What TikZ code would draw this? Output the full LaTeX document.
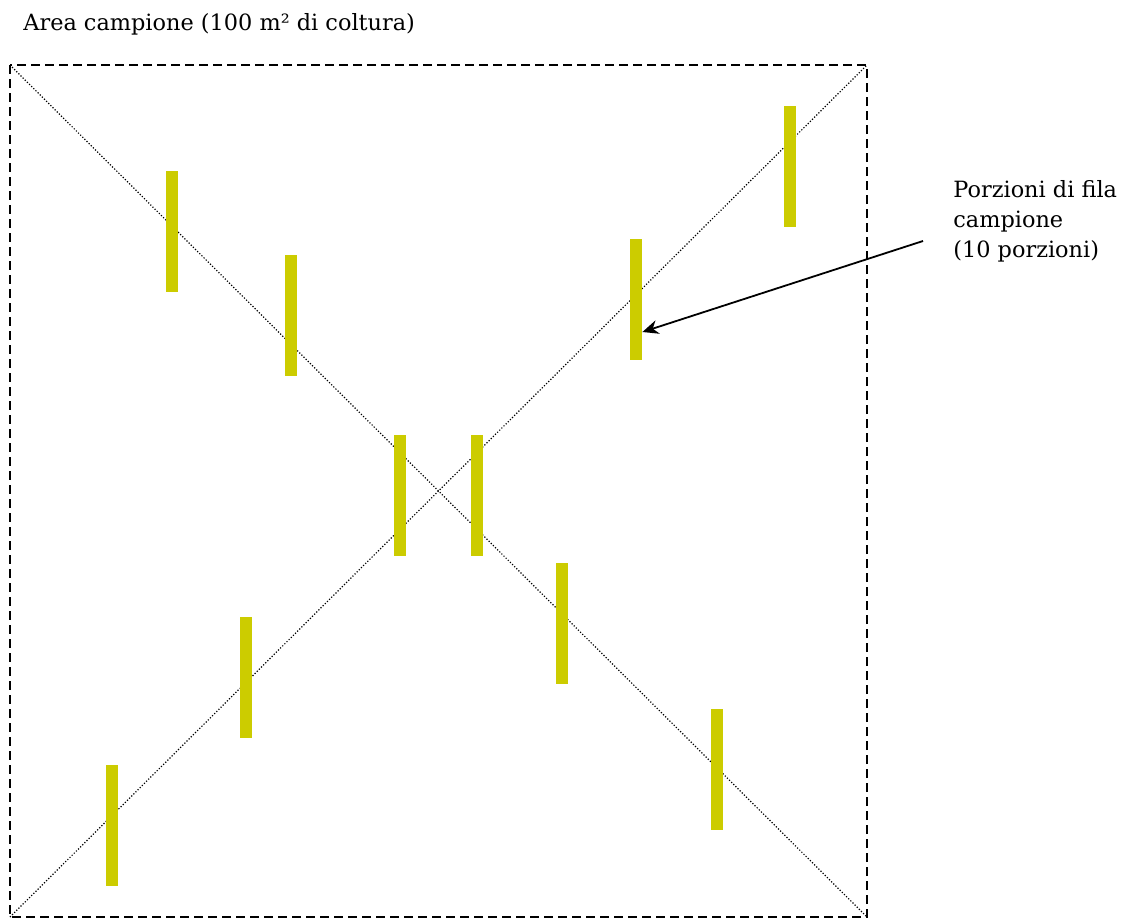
\documentclass[tikz,border=0pt]{standalone}
\usepackage{fontspec}
\setmainfont{DejaVu Serif}
\usetikzlibrary{arrows.meta}

\definecolor{porzione}{RGB}{204,204,0}

\begin{document}
\begin{tikzpicture}[x=0.5pt, y=-0.5pt,
    bar/.style={fill=porzione, inner sep=0pt, minimum width=6pt, minimum height=60.5pt},
    testo/.style={font=\fontsize{11.2}{15}\selectfont, inner sep=0pt}]
    \useasboundingbox (0,0) rectangle (1125,922);
    % sample area
    \coordinate (nw) at (10,65);
    \coordinate (ne) at (867,65);
    \coordinate (sw) at (10,917);
    \coordinate (se) at (867,917);
    \draw[line width=0.9pt, dash pattern=on 4.5pt off 2.5pt] (nw) rectangle (se);
    % diagonals
    \draw[line width=0.6pt, dash pattern=on 0.6pt off 0.9pt] (nw) -- (se);
    \draw[line width=0.6pt, dash pattern=on 0.6pt off 0.9pt] (sw) -- (ne);
    % row portions
    \node[bar] (p1) at (172,231.5) {};
    \node[bar] (p2) at (291,315.5) {};
    \node[bar] (p3) at (400,495.5) {};
    \node[bar] (p4) at (477,495.5) {};
    \node[bar] (p5) at (562,623.5) {};
    \node[bar] (p6) at (717,769.5) {};
    \node[bar] (p7) at (790,166.5) {};
    \node[bar] (p8) at (636,299.5) {};
    \node[bar] (p9) at (246,677.5) {};
    \node[bar] (p10) at (112,825.5) {};
    % labels
    \node[testo, anchor=base west] (titolo) at (23,30) {Area campione (100 m² di coltura)};
    \node[testo, anchor=base west, align=left] (etichetta) at (953,257) {Porzioni di fila\\campione\\(10 porzioni)};
    % arrow
    \coordinate (coda) at (923,241);
    \draw[-{Stealth[length=8pt, width=7pt]}, line width=0.9pt] (coda) -- (p8.east |- {(0,332)});
\end{tikzpicture}
\end{document}
